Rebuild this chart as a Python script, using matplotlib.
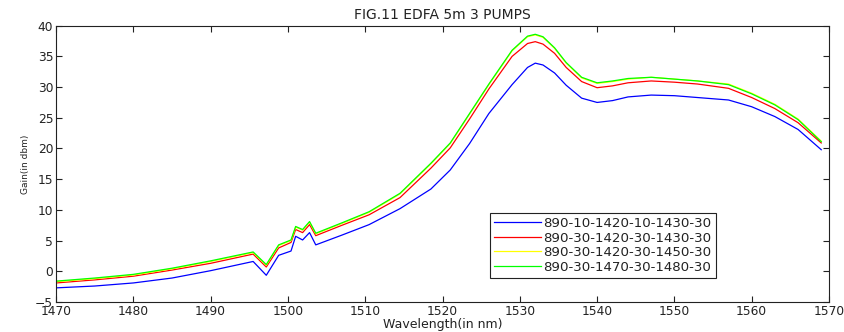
import matplotlib.pyplot as plt
from matplotlib.ticker import MultipleLocator

plt.rcParams['font.family'] = ['DejaVu Sans']

# —— 数据——
wl = [1470, 1475, 1480, 1485, 1490, 1495.5, 1497.2, 1498.8, 1500.4, 1501.0,
      1501.9, 1502.8, 1503.6, 1507, 1510.5, 1514.5, 1518.5, 1521, 1523.5, 1526,
      1529, 1531, 1532, 1533, 1534.5, 1536, 1538, 1540, 1542, 1544,
      1547, 1550, 1553, 1557, 1560, 1563, 1566, 1569]

gain_blue = [-2.7, -2.4, -1.9, -1.1, 0.1, 1.6, -0.65, 2.6, 3.3, 5.7,
             5.1, 6.3, 4.3, 5.9, 7.6, 10.2, 13.4, 16.5, 20.8, 25.7,
             30.4, 33.2, 33.9, 33.6, 32.3, 30.3, 28.2, 27.5, 27.8, 28.4,
             28.7, 28.6, 28.3, 27.9, 26.8, 25.2, 23.1, 19.8]

gain_red = [-1.9, -1.4, -0.8, 0.2, 1.3, 2.8, 0.7, 3.8, 4.7, 6.8,
            6.3, 7.6, 5.8, 7.5, 9.2, 12.0, 16.8, 20.1, 24.8, 29.7,
            35.0, 37.1, 37.4, 37.0, 35.5, 33.2, 30.9, 29.9, 30.2, 30.7,
            31.0, 30.8, 30.5, 29.8, 28.3, 26.5, 24.2, 20.9]

gain_yellow = [-1.7, -1.2, -0.6, 0.4, 1.6, 3.05, 1.0, 4.2, 5.0, 7.2,
               6.7, 8.0, 6.1, 7.8, 9.6, 12.6, 17.5, 20.8, 25.6, 30.4,
               35.9, 38.2, 38.5, 38.1, 36.3, 33.9, 31.5, 30.6, 30.9, 31.3,
               31.6, 31.3, 31.0, 30.5, 29.0, 27.2, 24.8, 21.2]

gain_green = [-1.6, -1.1, -0.5, 0.5, 1.7, 3.15, 1.1, 4.3, 5.1, 7.3,
              6.8, 8.1, 6.2, 7.9, 9.7, 12.7, 17.6, 20.9, 25.7, 30.5,
              36.0, 38.3, 38.6, 38.2, 36.4, 34.0, 31.6, 30.7, 31.0, 31.4,
              31.6, 31.3, 31.0, 30.4, 28.9, 27.1, 24.7, 21.1]

labels = ['890-10-1420-10-1430-30', '890-30-1420-30-1430-30',
          '890-30-1420-30-1450-30', '890-30-1470-30-1480-30']
series = [gain_blue, gain_red, gain_yellow, gain_green]
colors = ['#0000ff', '#ff0000', '#ffff00', '#00ff00']

fig = plt.figure(figsize=(8.44, 3.32), dpi=100)
ax = fig.add_axes([0.0664, 0.0904, 0.9158, 0.8322])

for g, c, lab in zip(series, colors, labels):
    ax.plot(wl, g, color=c, lw=0.9, label=lab)

ax.set_xlim(1470, 1570)
ax.set_ylim(-5, 40)
ax.xaxis.set_major_locator(MultipleLocator(10))
ax.yaxis.set_major_locator(MultipleLocator(5))
ax.tick_params(direction='in', top=True, right=True, length=4, width=0.8,
               labelsize=8.8, pad=2, colors='#222222')
for s in ax.spines.values():
    s.set_linewidth(0.8)
    s.set_color('#222222')

ax.set_title('FIG.11 EDFA 5m 3 PUMPS', fontsize=10, pad=5, color='#222222')
ax.set_xlabel('Wavelength(in nm)', fontsize=9, labelpad=0, color='#222222')
ax.set_ylabel('Gain(in dbm)', fontsize=6.5, labelpad=4, color='#222222')

leg = ax.legend(loc='lower left', bbox_to_anchor=(0.5615, 0.0877), fontsize=9.6,
                handlelength=3.5, handletextpad=0.2, borderpad=0.3,
                labelspacing=0.12, borderaxespad=0, fancybox=False, framealpha=1)
leg.get_frame().set_edgecolor('#222222')
leg.get_frame().set_linewidth(0.8)
for t in leg.get_texts():
    t.set_color('#222222')

fig.savefig('out.png', dpi=100)
